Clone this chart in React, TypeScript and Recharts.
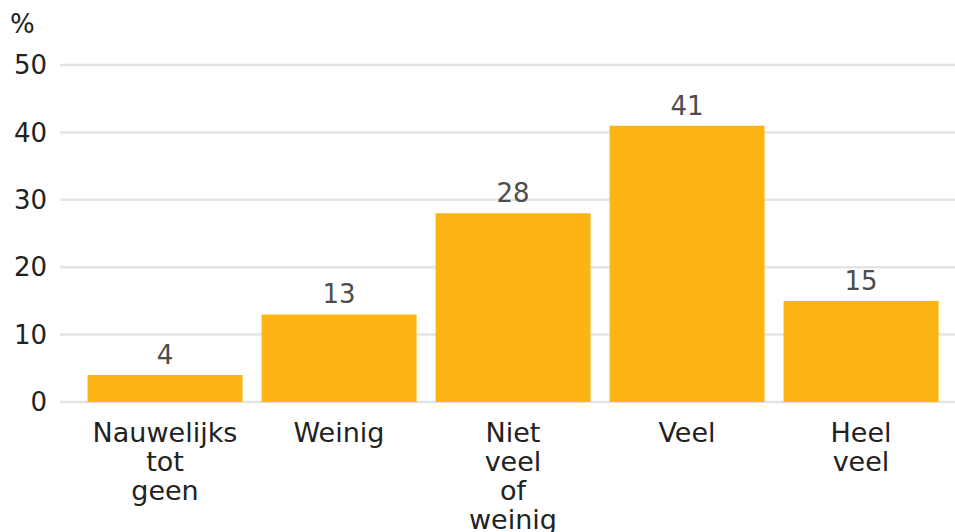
import React from "react";
import { BarChart, Bar, XAxis, YAxis, CartesianGrid, LabelList } from "recharts";

const categories = ["Nauwelijks\ntot\ngeen", "Weinig", "Niet\nveel\nof\nweinig", "Veel", "Heel\nveel"];
const values = [4, 13, 28, 41, 15];
const yTicks = [0, 10, 20, 30, 40, 50];

const data = categories.map((name, i) => ({ name, value: values[i] }));

const FONT = "'DejaVu Sans', sans-serif";

function CategoryTick(props: any) {
  const { x, y, payload } = props;
  const lines = String(payload.value).split("\n");
  return (
    <text x={x} y={y} textAnchor="middle" fill="#222" fontSize={27} fontFamily={FONT}>
      {lines.map((line: string, i: number) => (
        <tspan key={i} x={x} dy={i === 0 ? 32 : 29}>
          {line}
        </tspan>
      ))}
    </text>
  );
}

function GridLine(props: any) {
  const { x1, y1, y2 } = props;
  return <line x1={x1 - 18} x2={955} y1={y1} y2={y2} stroke="#e4e4e4" strokeWidth={2.5} />;
}

export default function App() {
  return (
    <div style={{ position: "absolute", left: 0, top: 0, width: 955, height: 532, background: "#fff" }}>
      <div
        style={{
          position: "absolute",
          left: 10,
          top: 9,
          fontFamily: FONT,
          fontSize: 26,
          color: "#222",
          lineHeight: "30px",
        }}
      >
        %
      </div>
      <BarChart
        width={955}
        height={532}
        data={data}
        margin={{ top: 65, right: 7, bottom: 0, left: 0 }}
        barCategoryGap="5.5%"
      >
        <CartesianGrid vertical={false} horizontal={<GridLine />} />
        <XAxis
          dataKey="name"
          axisLine={false}
          tickLine={false}
          interval={0}
          height={130}
          tick={<CategoryTick />}
        />
        <YAxis
          width={78}
          domain={[0, 50]}
          ticks={yTicks}
          axisLine={false}
          tickLine={false}
          tickSize={0}
          tickMargin={31}
          tick={{ fill: "#222", fontSize: 26, fontFamily: FONT }}
        />
        <Bar dataKey="value" fill="#FDB515" isAnimationActive={false}>
          <LabelList
            dataKey="value"
            position="top"
            offset={11}
            fill="#4d4d4d"
            fontSize={26}
            fontFamily={FONT}
          />
        </Bar>
      </BarChart>
    </div>
  );
}
